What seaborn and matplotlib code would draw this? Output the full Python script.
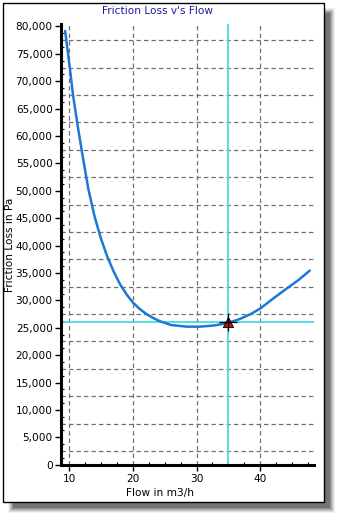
import numpy as np
import pandas as pd
import matplotlib
matplotlib.use("Agg")
import matplotlib.pyplot as plt
import seaborn as sns
from matplotlib.patches import Rectangle
from matplotlib.ticker import MultipleLocator, FuncFormatter

# ---- data ----
flow = [9.35, 10.1, 10.6, 11.4, 12.2, 13.0, 14.0, 15.0, 16.0, 17.0, 18.0, 19.0,
        20.0, 21.0, 22.0, 23.0, 24.0, 26.0, 28.5, 30.5, 32.6, 34.75, 36.8, 38.5,
        40.0, 42.0, 44.2, 46.0, 47.8]
friction = [79200, 72300, 67400, 61300, 55700, 50300, 45200, 41200, 37900, 35200,
            32900, 31100, 29600, 28500, 27600, 26900, 26300, 25500, 25200, 25200,
            25400, 25800, 26600, 27500, 28500, 30300, 32200, 33700, 35450]
op_flow = [35.0]
op_friction = [26000]
title = "Friction Loss v's Flow"
xlabel = "Flow in m3/h"
ylabel = "Friction Loss in Pa"

df = pd.DataFrame({"flow": flow, "friction": friction})

W, H = 338, 516
sns.set_theme(style="white")
plt.rcParams["font.family"] = ["DejaVu Sans"]
fig = plt.figure(figsize=(W / 100, H / 100), dpi=100)
fig.patch.set_facecolor("white")

# shadow + frame (figure pixel coords)
def px_rect(x0, y0, x1, y1, **kw):
    return Rectangle((x0 / W, 1 - y1 / H), (x1 - x0) / W, (y1 - y0) / H,
                     transform=fig.transFigure, **kw)

for i, a in enumerate([0.06, 0.08, 0.10, 0.13, 0.16, 0.2]):
    d = 6 - i
    fig.patches.append(px_rect(8 + i, 8 + i, 329 + d, 507 + d,
                               facecolor="black", alpha=a, edgecolor="none", zorder=0))
fig.patches.append(px_rect(2.5, 2.5, 323.5, 501.5, facecolor="white",
                           edgecolor="black", linewidth=1.0, zorder=1))

ax = fig.add_axes([61 / W, 1 - 464.7 / H, (314.3 - 61) / W, (464.7 - 24.3) / H])
ax.set_zorder(2)
ax.set_facecolor("none")

xmin, xmax = 8.7, 48.5
ymin, ymax = 0, 80400
ax.set_xlim(xmin, xmax)
ax.set_ylim(ymin, ymax)

# grid lines (dashed)
ax.hlines(np.arange(2500, 80000, 5000), xmin, xmax, colors="#707070",
          linestyles=(0, (3.5, 2.5)), linewidth=0.9, zorder=1)
ax.vlines([10, 20, 30, 40], ymin, ymax, colors="#707070",
          linestyles=(0, (3.5, 2.5)), linewidth=0.9, zorder=1)

# operating point cross-hair
ax.axvline(op_flow[0], color="#48DCE0", linewidth=1.3, zorder=2)
ax.axhline(op_friction[0], color="#48DCE0", linewidth=1.3, zorder=2)

sns.lineplot(data=df, x="flow", y="friction", sort=False, color="#1B78D6",
             linewidth=1.8, ax=ax, zorder=3)

ax.scatter(op_flow, op_friction, marker="^", s=55, color="#C01010",
           edgecolors="black", linewidths=0.6, zorder=5)
ax.scatter(op_flow, op_friction, marker="+", s=180, color="black",
           linewidths=0.9, zorder=6)

for s in ["top", "right"]:
    ax.spines[s].set_visible(False)
for s in ["left", "bottom"]:
    ax.spines[s].set_visible(True)
    ax.spines[s].set_color("black")
    ax.spines[s].set_linewidth(2.2)

ax.xaxis.set_major_locator(MultipleLocator(10))
ax.xaxis.set_minor_locator(MultipleLocator(2.5))
ax.yaxis.set_major_locator(MultipleLocator(5000))
ax.yaxis.set_minor_locator(MultipleLocator(1250))
ax.yaxis.set_major_formatter(FuncFormatter(lambda v, p: f"{int(v):,}"))
ax.tick_params(axis="both", which="major", direction="out", length=4, width=1,
               color="black", labelsize=7.6, labelcolor="black", pad=2)
ax.tick_params(axis="x", which="major", pad=3)
ax.tick_params(axis="both", which="minor", direction="in", length=2.5, width=0.8,
               color="black")
ax.tick_params(axis="x", which="both", bottom=True)
ax.tick_params(axis="y", which="both", left=True)

ax.set_xlabel("")
ax.set_ylabel("")
ax.grid(False)

fig.text(160 / W, 1 - 493 / H, xlabel, ha="center", va="center",
         fontsize=7.6, color="black")
fig.text(10.5 / W, 1 - 244.5 / H, ylabel, ha="center", va="center",
         rotation=90, fontsize=7.6, color="black")
fig.text(158 / W, 1 - 11.5 / H, title, ha="center", va="center",
         fontsize=7.6, color="#1C1CA0")

fig.savefig("out.png", dpi=100)
